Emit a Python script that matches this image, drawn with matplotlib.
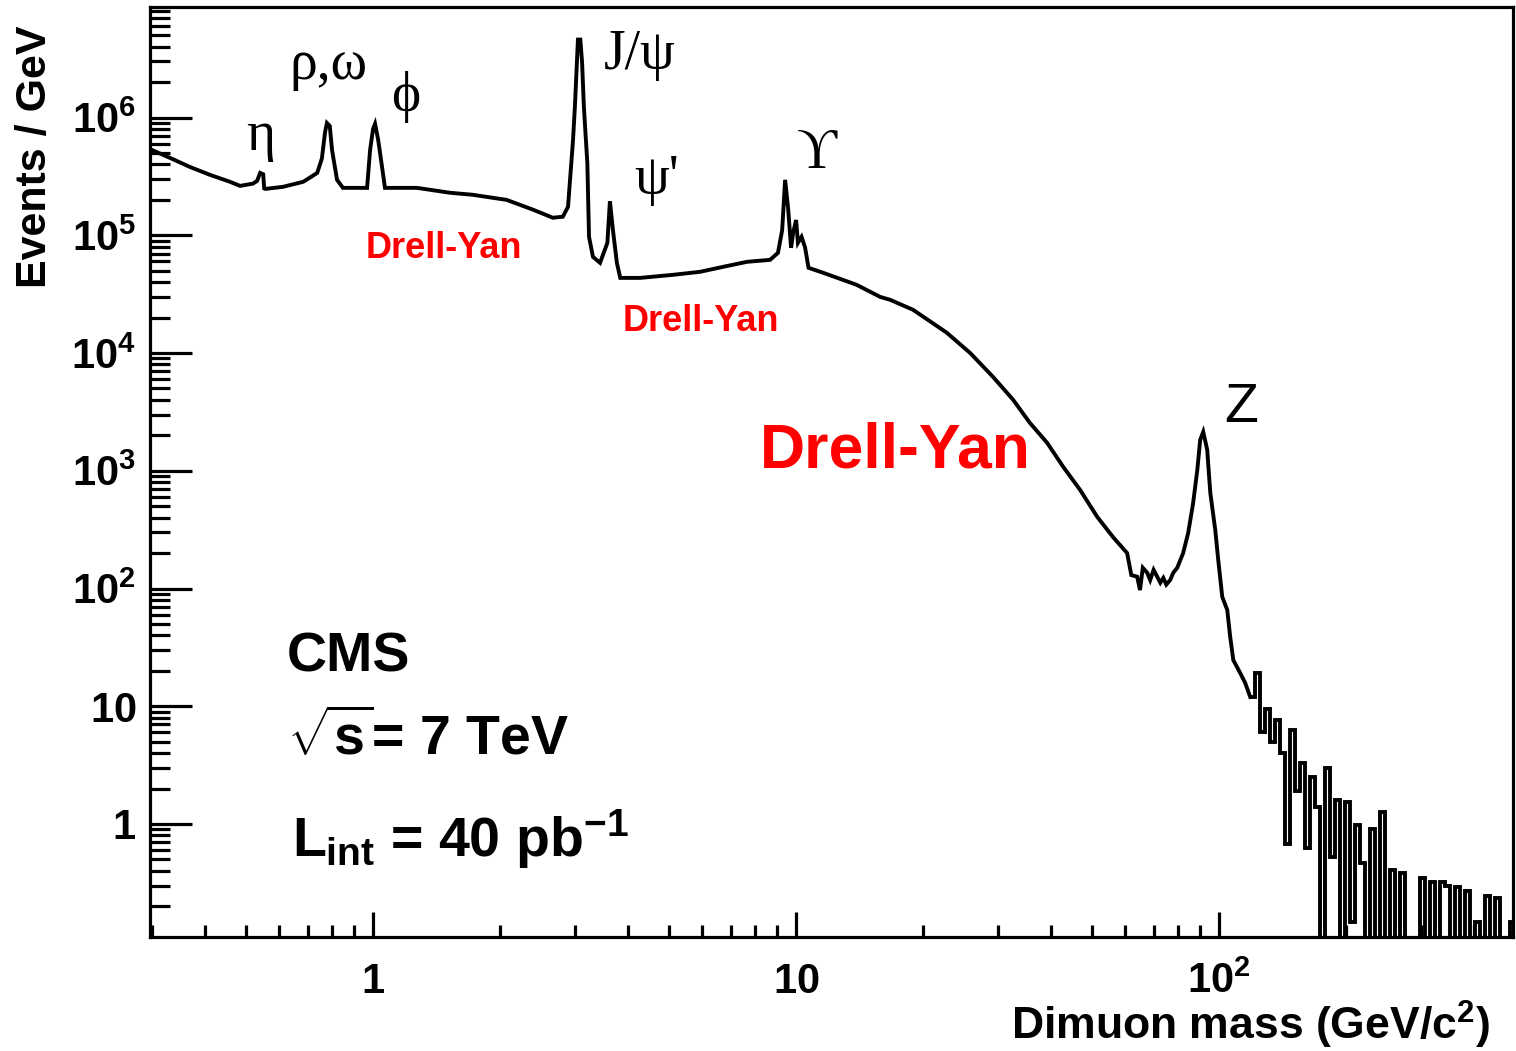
import matplotlib
matplotlib.use('Agg')
import matplotlib.pyplot as plt
from matplotlib.ticker import FixedLocator, FixedFormatter, LogLocator, NullFormatter

plt.rcParams['font.family'] = ['Liberation Sans', 'DejaVu Sans']
plt.rcParams['font.weight'] = 'bold'
plt.rcParams['mathtext.fontset'] = 'custom'
plt.rcParams['mathtext.rm'] = 'Liberation Sans:bold'
plt.rcParams['mathtext.it'] = 'Liberation Sans:bold'
plt.rcParams['mathtext.bf'] = 'Liberation Sans:bold'
plt.rcParams['mathtext.sf'] = 'Liberation Sans:bold'

# ---------------- data ----------------
mass = [0.297, 0.331, 0.369, 0.412, 0.459, 0.485, 0.520, 0.532, 0.541, 0.550,
        0.553, 0.556, 0.612, 0.684, 0.738, 0.757, 0.770, 0.778, 0.790, 0.800,
        0.822, 0.849, 0.968, 0.984, 1.000, 1.011, 1.028, 1.039, 1.067, 1.27,
        1.52, 1.72, 2.07, 2.39, 2.66, 2.81, 2.89, 2.97, 3.00, 3.05,
        3.09, 3.12, 3.15, 3.21, 3.24, 3.31, 3.44, 3.58, 3.63, 3.69,
        3.77, 3.84, 4.28, 5.12, 5.93, 6.72, 7.66, 8.68, 9.06, 9.27,
        9.42, 9.58, 9.73, 9.84, 10.0, 10.1, 10.3, 10.5, 10.7, 11.6,
        13.9, 15.8, 16.7, 18.9, 20.0, 22.7, 25.8, 29.2, 32.6, 35.7,
        39.2, 42.8, 46.9, 51.5, 56.1, 60.6, 62.0, 64.0, 65.0, 66.0,
        67.6, 68.7, 70.0, 72.6, 73.8, 75.0, 76.6, 77.9, 79.6, 82.2,
        84.5, 86.8, 88.8, 90.2, 91.7, 93.7, 95.3, 97.9, 99.5, 101.7,
        104.5, 106.2, 108.0, 112.1, 115.2, 118.4]
events = [5.4e5, 4.55e5, 3.81e5, 3.26e5, 2.85e5, 2.63e5, 2.75e5, 2.9e5, 3.39e5, 3.3e5,
          2.5e5, 2.48e5, 2.58e5, 2.85e5, 3.39e5, 4.5e5, 7.5e5, 9.0e5, 8.5e5, 5.3e5,
          2.96e5, 2.53e5, 2.53e5, 5.3e5, 8.0e5, 8.85e5, 6.5e5, 5.0e5, 2.53e5, 2.53e5,
          2.30e5, 2.21e5, 2.00e5, 1.65e5, 1.41e5, 1.44e5, 1.75e5, 6.5e5, 1.24e6, 4.6e6,
          4.6e6, 2.92e6, 1.24e6, 4.13e5, 9.7e4, 6.56e4, 5.84e4, 8.63e4, 1.95e5, 1.11e5,
          5.84e4, 4.35e4, 4.35e4, 4.62e4, 4.90e4, 5.40e4, 5.96e4, 6.19e4, 7.10e4, 1.11e5,
          2.96e5, 1.65e5, 7.83e4, 1.05e5, 1.35e5, 8.63e4, 9.71e4, 7.9e4, 5.30e4, 4.80e4,
          3.80e4, 3.00e4, 2.83e4, 2.33e4, 2.03e4, 1.49e4, 1.00e4, 6.28e3, 4.00e3, 2.55e3,
          1.73e3, 1.08e3, 689, 406, 274, 200, 130, 126, 97, 150,
          136, 118, 144, 112, 123, 108, 118, 136, 150, 200,
          297, 533, 1020, 1830, 2140, 1510, 649, 315, 175, 85,
          65.8, 38.8, 24.7, 19.2, 15.8, 12.0]

tail_edges = [118.4, 121.7, 125.0, 128.5, 132.0, 135.7, 139.4, 143.2, 147.2, 151.2,
              155.4, 159.7, 164.1, 168.7, 173.3, 178.1, 183.0, 188.1, 193.2, 198.6,
              204.0, 209.7, 215.4, 221.4, 227.5, 233.8, 240.2, 246.8, 253.7, 260.7,
              267.9, 275.3, 282.9, 290.7, 298.7, 306.9, 315.4, 324.1, 333.0, 342.2,
              351.7, 361.4, 371.3, 381.6, 392.1, 402.9, 414.0, 425.4, 437.2, 449.2,
              461.6, 474.3, 487.4, 501.0]
tail_events = [12.0, 19.0, 6.0, 9.5, 5.0, 7.7, 4.0, 0.68, 6.3, 1.9,
               3.3, 0.63, 2.5, 1.39, 0, 2.99, 0.52, 1.6, 0, 1.54,
               0.147, 0.98, 0.47, 0, 0.91, 0, 1.26, 0, 0.41, 0,
               0.38, 0, 0, 0, 0.35, 0, 0.32, 0, 0.32, 0.30,
               0, 0.29, 0, 0.27, 0, 0.147, 0, 0.245, 0, 0.235,
               0, 0, 0.147]

x_ticks = [1, 10, 100]
x_tick_labels = [r'$1$', r'$10$', r'$10^{2}$']
y_ticks = [1, 10, 1e2, 1e3, 1e4, 1e5, 1e6]
y_tick_labels = [r'$1$', r'$10$', r'$10^{2}$', r'$10^{3}$', r'$10^{4}$', r'$10^{5}$', r'$10^{6}$']

# ---------------- figure ----------------
W, H = 1516, 1051
fig = plt.figure(figsize=(W / 100, H / 100), dpi=100)


def fx(px):
    return px / W


def fy(py):
    return 1 - py / H


ax = fig.add_axes([fx(150), fy(937), (1513 - 150) / W, (937 - 7) / H])
ax.set_xscale('log')
ax.set_yscale('log')

ax.plot(mass, events, color='black', lw=2.8, solid_joinstyle='miter')
ax.stairs(tail_events, tail_edges, color='black', lw=2.8, baseline=None)

ax.set_xlim(0.297, 495)
ax.set_ylim(0.1096, 8.7e6)

for s in ax.spines.values():
    s.set_linewidth(2.3)

ax.xaxis.set_major_locator(FixedLocator(x_ticks))
ax.xaxis.set_major_formatter(FixedFormatter(x_tick_labels))
ax.xaxis.set_minor_locator(LogLocator(base=10, subs=range(2, 10), numticks=50))
ax.xaxis.set_minor_formatter(NullFormatter())
ax.yaxis.set_major_locator(FixedLocator(y_ticks))
ax.yaxis.set_major_formatter(FixedFormatter(y_tick_labels))
ax.yaxis.set_minor_locator(LogLocator(base=10, subs=range(2, 10), numticks=50))
ax.yaxis.set_minor_formatter(NullFormatter())

ax.tick_params(axis='both', which='both', direction='in', top=False, right=False,
               width=2.3, colors='black')
ax.tick_params(axis='y', which='major', length=30, pad=10, labelsize=30)
ax.tick_params(axis='y', which='minor', length=14.5)
ax.tick_params(axis='x', which='major', length=18, pad=40, labelsize=30)
ax.tick_params(axis='x', which='minor', length=9)
for t in ax.xaxis.get_major_ticks():
    t.label1.set_verticalalignment('baseline')

# axis titles
fig.text(fx(35), fy(25), 'Events / GeV', rotation=90, ha='center', va='top',
         fontsize=31, fontweight='bold')
fig.text(fx(1490), fy(1040), r'Dimuon mass (GeV/c$^{2}$)', ha='right', va='baseline',
         fontsize=32, fontweight='bold')

# resonance labels
serif = ['Liberation Serif', 'DejaVu Serif']
greek = [('η', 261, 150), ('ρ,ω', 328, 79), ('ϕ', 406, 111),
         ('J/ψ', 640, 69), ("ψ'", 657, 194), ('ϒ', 817, 168)]
for txt, px, py in greek:
    fig.text(fx(px), fy(py), txt, ha='center', va='baseline', fontsize=40,
             family=serif, fontweight='normal')
fig.text(fx(1241), fy(422), 'Z', ha='center', va='baseline', fontsize=40,
         fontweight='normal')

# Drell-Yan labels
fig.text(fx(366), fy(258), 'Drell-Yan', color='#ff0000', fontsize=26, fontweight='bold',
         ha='left', va='baseline')
fig.text(fx(623), fy(331), 'Drell-Yan', color='#ff0000', fontsize=26, fontweight='bold',
         ha='left', va='baseline')
fig.text(fx(760), fy(467), 'Drell-Yan', color='#ff0000', fontsize=45, fontweight='bold',
         ha='left', va='baseline')

# CMS block
fig.text(fx(287), fy(672), 'CMS', fontsize=40, fontweight='bold', ha='left', va='baseline')
fig.text(fx(287), fy(755), r'$\sqrt{s}$= 7 TeV', fontsize=40, fontweight='bold',
         ha='left', va='baseline')
fig.text(fx(292), fy(857), r'$L_{int}$ = 40 pb$^{-1}$', fontsize=40, fontweight='bold',
         ha='left', va='baseline')

fig.savefig('out.png', dpi=100)
